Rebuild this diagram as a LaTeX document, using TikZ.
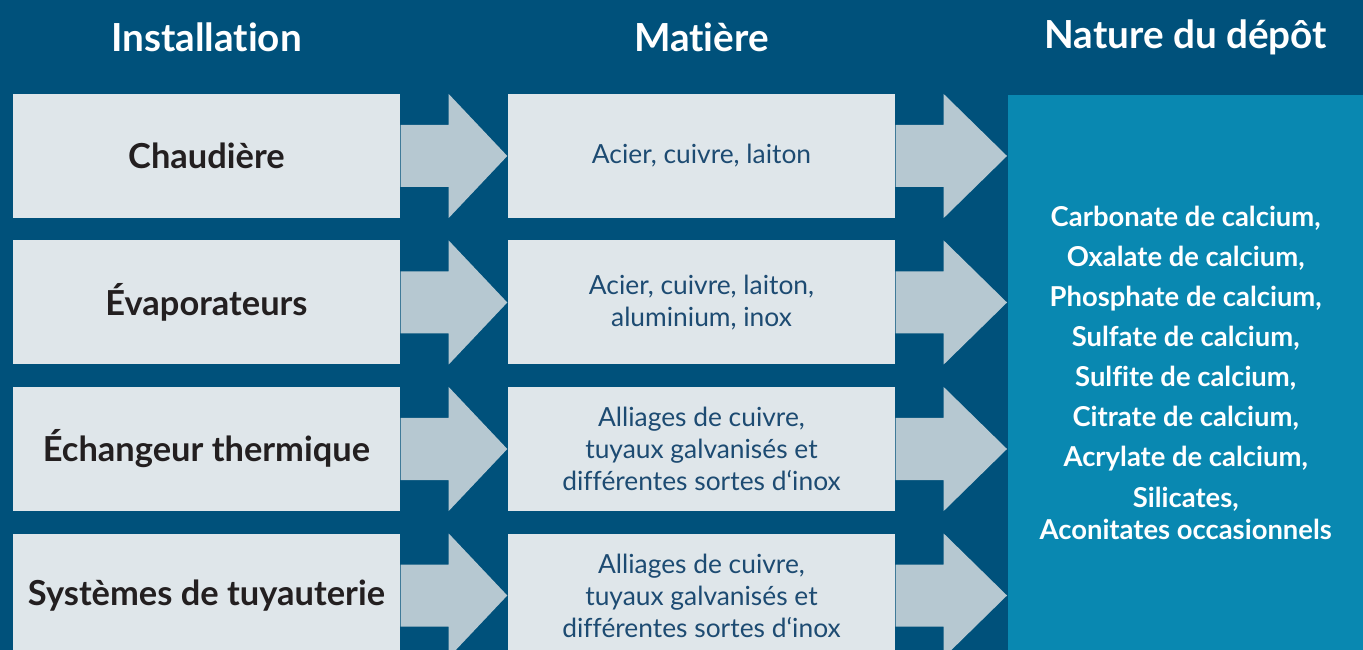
\documentclass[tikz,border=0pt]{standalone}
\usepackage{fontspec}
\setmainfont{Lato}[Ligatures=NoCommon]
\usetikzlibrary{positioning, calc}

\definecolor{fond}{HTML}{00517B}
\definecolor{boite}{HTML}{DFE6EA}
\definecolor{flechec}{HTML}{B6C8D1}
\definecolor{panneau}{HTML}{0988B1}
\definecolor{texteb}{HTML}{1D4B72}
\definecolor{textef}{HTML}{231F20}

\tikzset{
  inst/.style={fill=boite, minimum width=3.87cm, minimum height=1.24cm,
    font=\fontsize{9.8}{12}\selectfont\bfseries, text=textef},
  mat/.style={fill=boite, minimum width=3.87cm, minimum height=1.24cm, align=center,
    font=\fontsize{7.5}{9.1}\selectfont, text=texteb},
  titre/.style={text=white, font=\fontsize{11}{13}\selectfont\bfseries},
  depot/.style={fill=panneau, minimum width=3.56cm, minimum height=5.56cm, align=center,
    text=white, font=\fontsize{7.8}{11.4}\selectfont\bfseries}
}

% fleche de la boite #1 vers la boite #2
\newcommand{\fleche}[2]{%
  \fill[flechec] ($(#1.east)+(0,0.31)$) -- ($(#1.east)+(0.48,0.31)$)
    -- ($(#1.east)+(0.48,0.62)$) -- (#1.east -| #2.west)
    -- ($(#1.east)+(0.48,-0.62)$) -- ($(#1.east)+(0.48,-0.31)$)
    -- ($(#1.east)+(0,-0.31)$) -- cycle;}

\begin{document}
\begin{tikzpicture}[node distance=1.465cm and 4.95cm, on grid]
  \fill[fond] (0,0) rectangle (13.63,-6.5);
  \useasboundingbox (0,0) rectangle (13.63,-6.5);
  \clip (0,0) rectangle (13.63,-6.5);

  \node[inst] (chau) at (2.065,-1.56) {Chaudière};
  \node[inst] (evap) [below=of chau] {Évaporateurs};
  \node[inst] (echa) [below=of evap] {Échangeur thermique};
  \node[inst] (tuya) [below=of echa] {Systèmes de tuyauterie};

  \node[mat] (mat1) [right=of chau] {Acier, cuivre, laiton};
  \node[mat] (mat2) [right=of evap] {Acier, cuivre, laiton,\\aluminium, inox};
  \node[mat] (mat3) [right=of echa] {Alliages de cuivre,\\tuyaux galvanisés et\\différentes sortes d‘inox};
  \node[mat] (mat4) [right=of tuya] {Alliages de cuivre,\\tuyaux galvanisés et\\différentes sortes d‘inox};

  \node[depot, anchor=north west] (dep) at (10.07,-0.94) {Carbonate de calcium,\\Oxalate de calcium,\\
    Phosphate de calcium,\\Sulfate de calcium,\\Sulfite de calcium,\\Citrate de calcium,\\
    Acrylate de calcium,\\Silicates,\\[-2.3pt]Aconitates occasionnels};

  \node[titre] (tinst) at (chau |- 0,-0.37) {Installation};
  \node[titre] (tmat) at (mat1 |- 0,-0.37) {Matière};
  \node[titre] (tdep) at (dep |- 0,-0.37) {Nature du dépôt};

  \fleche{chau}{mat1}
  \fleche{evap}{mat2}
  \fleche{echa}{mat3}
  \fleche{tuya}{mat4}
  \fleche{mat1}{dep}
  \fleche{mat2}{dep}
  \fleche{mat3}{dep}
  \fleche{mat4}{dep}
\end{tikzpicture}
\end{document}
